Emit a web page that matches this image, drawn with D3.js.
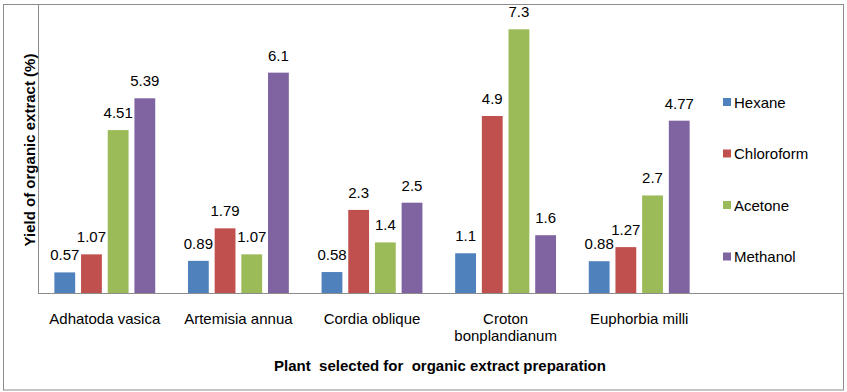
<!DOCTYPE html>
<html>
<head>
<meta charset="utf-8">
<script src="https://cdn.jsdelivr.net/npm/d3@7"></script>
<style>
  body { margin: 0; background: #fff; }
  text { font-family: "Liberation Sans", Arial, sans-serif; }
</style>
</head>
<body>
<div id="chart"></div>
<script>
var plants = ["Adhatoda vasica", "Artemisia annua", "Cordia oblique", "Croton bonplandianum", "Euphorbia milli"]
var solvents = ["Hexane", "Chloroform", "Acetone", "Methanol"]
var hexane = [0.57, 0.89, 0.58, 1.1, 0.88]
var chloroform = [1.07, 1.79, 2.3, 4.9, 1.27]
var acetone = [4.51, 1.07, 1.4, 7.3, 2.7]
var methanol = [5.39, 6.1, 2.5, 1.6, 4.77]
var colors = ["#4F81BD", "#C0504D", "#9BBB59", "#8064A2"]

var width = 847;
var height = 392;
var fs = 15;

var series = [hexane, chloroform, acetone, methanol];

var svg = d3.select("#chart").append("svg")
  .attr("width", width)
  .attr("height", height);

// outer frame
svg.append("rect")
  .attr("x", 3.5).attr("y", 4.5)
  .attr("width", 840).attr("height", 385.5)
  .attr("fill", "none")
  .attr("stroke", "#8c8c8c");

var x0 = d3.scaleBand().domain(plants).range([38, 706]).paddingInner(0.245).paddingOuter(0.1225);
var x1 = d3.scaleBand().domain(solvents).range([0, x0.bandwidth()]).paddingInner(0.22);
var y = d3.scaleLinear().domain([0, 8]).range([293, 4]);

var groups = svg.append("g").selectAll("g")
  .data(plants)
  .join("g")
  .attr("transform", d => "translate(" + x0(d) + ",0)");

groups.selectAll("rect")
  .data((d, i) => solvents.map((s, j) => ({s: s, v: series[j][i], c: colors[j]})))
  .join("rect")
  .attr("x", d => x1(d.s))
  .attr("y", d => y(d.v))
  .attr("width", x1.bandwidth())
  .attr("height", d => y(0) - y(d.v))
  .attr("fill", d => d.c);

groups.selectAll("text.val")
  .data((d, i) => solvents.map((s, j) => ({s: s, v: series[j][i]})))
  .join("text")
  .attr("class", "val")
  .attr("x", d => x1(d.s) + x1.bandwidth() / 2)
  .attr("y", d => y(d.v) - 12)
  .attr("text-anchor", "middle")
  .attr("font-size", fs)
  .text(d => d.v);

// axes lines
svg.append("line")
  .attr("x1", 38.5).attr("x2", 38.5)
  .attr("y1", 4).attr("y2", 293)
  .attr("stroke", "#8c8c8c");
svg.append("line")
  .attr("x1", 38).attr("x2", 843)
  .attr("y1", 293.5).attr("y2", 293.5)
  .attr("stroke", "#8c8c8c");

// category labels
svg.append("g").selectAll("text")
  .data(plants)
  .join("text")
  .attr("x", d => x0(d) + x0.bandwidth() / 2)
  .attr("y", 323.5)
  .attr("text-anchor", "middle")
  .attr("font-size", fs)
  .each(function(d) {
    var t = d3.select(this);
    var lines = d === "Croton bonplandianum" ? ["Croton", "bonplandianum"] : [d];
    lines.forEach((l, k) => {
      t.append("tspan").attr("x", x0(d) + x0.bandwidth() / 2).attr("dy", k ? 17 : 0).text(l);
    });
  });

svg.append("text")
  .attr("x", 440)
  .attr("y", 371)
  .attr("text-anchor", "middle")
  .attr("font-size", fs)
  .attr("font-weight", "bold")
  .attr("xml:space", "preserve")
  .text("Plant  selected for  organic extract preparation");

svg.append("text")
  .attr("transform", "translate(35,150) rotate(-90)")
  .attr("text-anchor", "middle")
  .attr("font-size", fs)
  .attr("font-weight", "bold")
  .text("Yield of organic extract (%)");

// legend
var legend = svg.append("g").selectAll("g")
  .data(solvents)
  .join("g")
  .attr("transform", (d, i) => "translate(723," + (102 + i * 51.5) + ")");

legend.append("rect")
  .attr("x", 0).attr("y", -4)
  .attr("width", 8).attr("height", 8)
  .attr("fill", (d, i) => colors[i]);

legend.append("text")
  .attr("x", 11)
  .attr("y", 5.5)
  .attr("font-size", fs)
  .text(d => d);
</script>
</body>
</html>
